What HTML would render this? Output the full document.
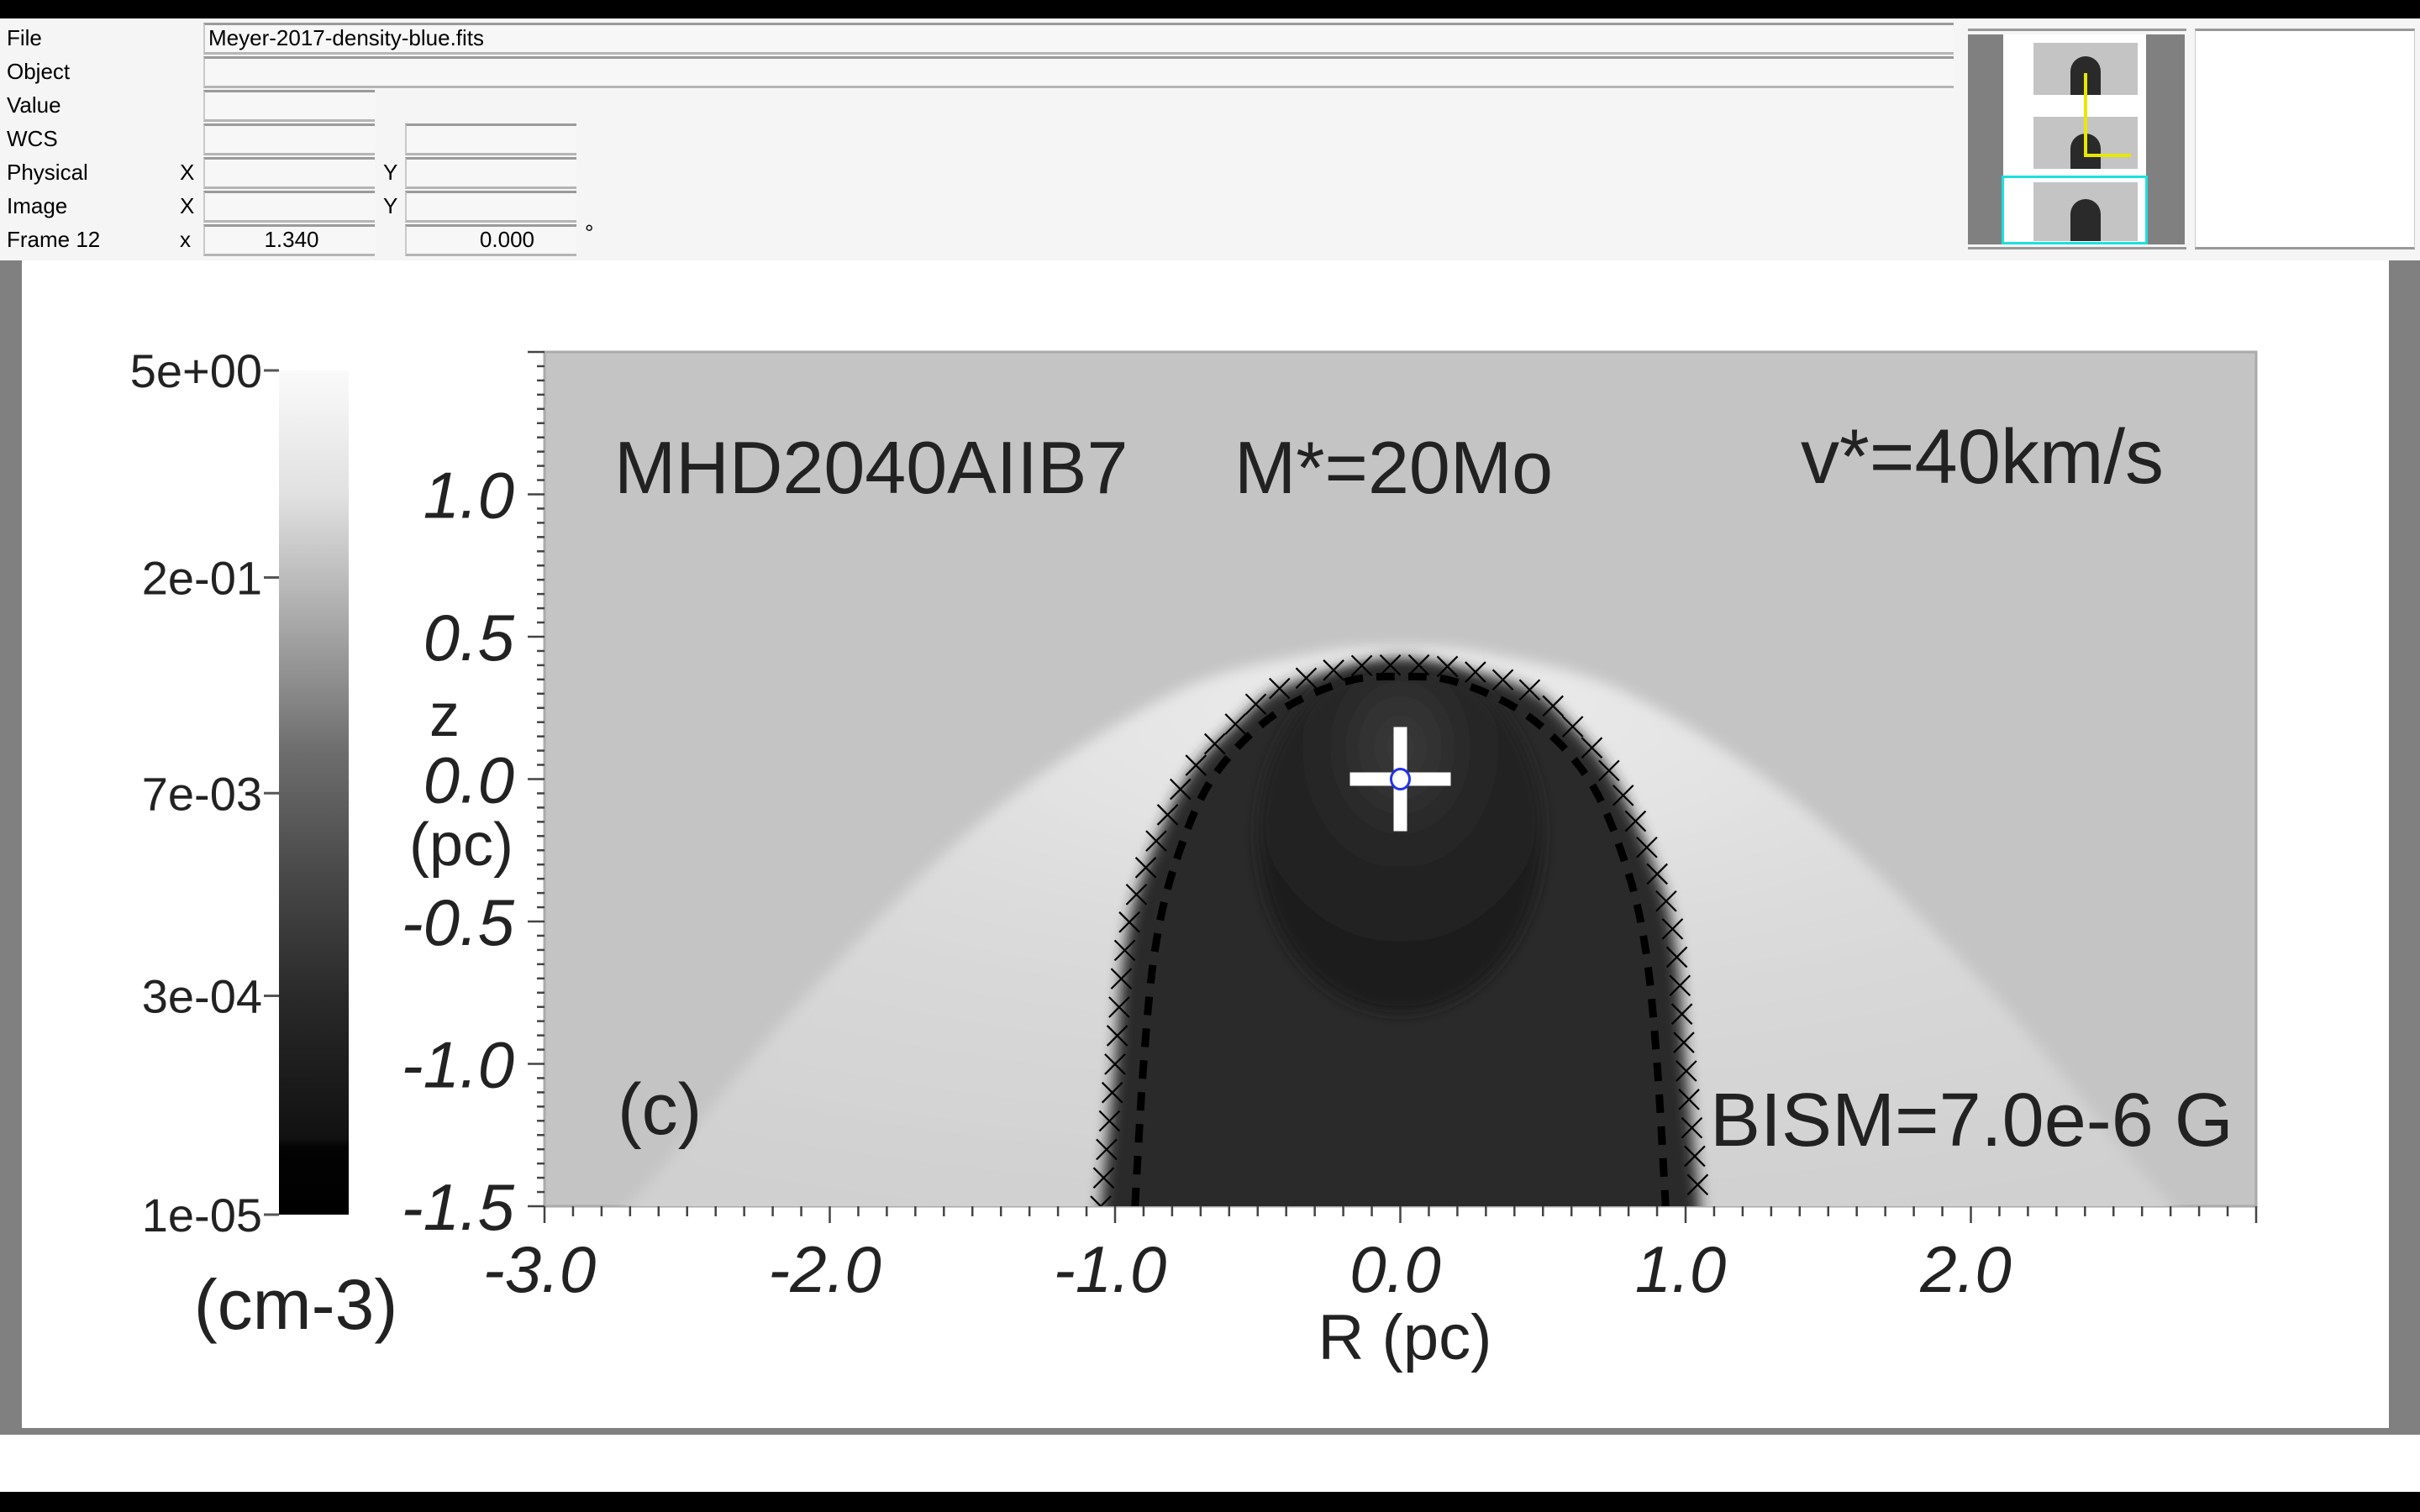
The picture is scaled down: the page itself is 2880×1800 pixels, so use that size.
<!DOCTYPE html>
<html><head><meta charset="utf-8"><style>
*{margin:0;padding:0;box-sizing:border-box}
body{width:2880px;height:1800px;overflow:hidden;background:#000;font-family:"Liberation Sans",sans-serif;position:relative}
.abs{position:absolute}
#panel{left:0;top:22px;width:2880px;height:288px;background:#f5f5f5}
.lbl{position:absolute;left:8px;font-size:26px;color:#000}
.box{position:absolute;background:#f7f7f7;border-top:3px solid #9a9a9a;border-left:2px solid #c8c8c8;border-bottom:3px solid #b5b5b5;font-size:26px;line-height:30px;padding-left:4px}
</style></head><body>
<div class="abs" style="left:0;top:0;width:2880px;height:22px;background:#000"></div>
<div id="panel" class="abs">
 <div class="lbl" style="top:8px">File</div>
 <div class="lbl" style="top:48px">Object</div>
 <div class="lbl" style="top:88px">Value</div>
 <div class="lbl" style="top:128px">WCS</div>
 <div class="lbl" style="top:168px">Physical</div>
 <div class="lbl" style="top:208px">Image</div>
 <div class="lbl" style="top:248px">Frame 12</div>
 <div class="lbl" style="top:168px;left:214px">X</div>
 <div class="lbl" style="top:208px;left:214px">X</div>
 <div class="lbl" style="top:248px;left:214px">x</div>
 <div class="lbl" style="top:168px;left:456px">Y</div>
 <div class="lbl" style="top:208px;left:456px">Y</div>
 <div class="lbl" style="top:240px;left:696px">°</div>
 <div class="box" style="left:242px;top:5px;width:2083px;height:38px">Meyer-2017-density-blue.fits</div>
 <div class="box" style="left:242px;top:45px;width:2083px;height:38px"></div>
 <div class="box" style="left:242px;top:85px;width:204px;height:38px"></div>
 <div class="box" style="left:242px;top:125px;width:204px;height:38px"></div>
 <div class="box" style="left:482px;top:125px;width:204px;height:38px"></div>
 <div class="box" style="left:242px;top:165px;width:204px;height:38px"></div>
 <div class="box" style="left:482px;top:165px;width:204px;height:38px"></div>
 <div class="box" style="left:242px;top:205px;width:204px;height:38px"></div>
 <div class="box" style="left:482px;top:205px;width:204px;height:38px"></div>
 <div class="box" style="left:242px;top:245px;width:204px;height:38px;text-align:center">1.340</div>
 <div class="box" style="left:482px;top:245px;width:204px;height:38px;text-align:right;padding-right:50px">0.000</div>
 <div class="abs" style="left:2342px;top:12px;width:260px;height:263px;background:#f5f5f5;border-top:3px solid #999;border-bottom:3px solid #999;overflow:hidden">
  <div class="abs" style="left:0;top:4px;width:258px;height:250px;background:#808080"></div>
  <div class="abs" style="left:42px;top:4px;width:170px;height:250px;background:#fff"></div>
  <div class="abs" style="left:78px;top:14px;width:124px;height:62px;background:#c4c4c4"></div>
  <div class="abs" style="left:122px;top:30px;width:36px;height:46px;background:#2a2a2a;border-radius:18px 18px 0 0"></div>
  <div class="abs" style="left:78px;top:102px;width:124px;height:62px;background:#c4c4c4"></div>
  <div class="abs" style="left:122px;top:122px;width:36px;height:42px;background:#2a2a2a;border-radius:18px 18px 0 0"></div>
  <div class="abs" style="left:138px;top:50px;width:4px;height:100px;background:#e8e800"></div>
  <div class="abs" style="left:138px;top:146px;width:56px;height:4px;background:#e8e800"></div>
  <div class="abs" style="left:40px;top:172px;width:174px;height:82px;border:3px solid #1ee0e0"></div>
  <div class="abs" style="left:78px;top:180px;width:124px;height:70px;background:#c4c4c4"></div>
  <div class="abs" style="left:122px;top:200px;width:36px;height:50px;background:#2a2a2a;border-radius:18px 18px 0 0"></div>
 </div>
 <div class="abs" style="left:2612px;top:12px;width:262px;height:263px;background:#fff;border-top:3px solid #999;border-bottom:3px solid #999;border-left:1px solid #ccc;border-right:1px solid #ccc"></div>
</div>
<div class="abs" style="left:0;top:310px;width:2880px;height:1466px;background:#fff">
 <div class="abs" style="left:0;top:0;width:26px;height:1390px;background:#808080"></div>
 <div class="abs" style="left:2843px;top:0;width:37px;height:1390px;background:#808080"></div>
 <div class="abs" style="left:0;top:1390px;width:2880px;height:8px;background:#808080"></div>
</div>
<svg id="chart" class="abs" style="left:0;top:0" width="2880" height="1800">
<defs>
 <linearGradient id="cbg" x1="0" y1="0" x2="0" y2="1">
  <stop offset="0" stop-color="#fafafa"/><stop offset="0.15" stop-color="#e0e0e0"/><stop offset="0.3" stop-color="#a8a8a8"/>
  <stop offset="0.45" stop-color="#6e6e6e"/><stop offset="0.6" stop-color="#484848"/><stop offset="0.75" stop-color="#282828"/>
  <stop offset="0.91" stop-color="#111"/><stop offset="0.92" stop-color="#030303"/><stop offset="1" stop-color="#000"/>
 </linearGradient>
 <radialGradient id="shg" cx="0.5" cy="0.1" r="0.9">
  <stop offset="0" stop-color="#ececec"/><stop offset="0.5" stop-color="#dadada"/><stop offset="1" stop-color="#d0d0d0"/>
 </radialGradient>
 <radialGradient id="bub" cx="0.5" cy="0.25" r="0.7">
  <stop offset="0" stop-color="#3a3a3a"/><stop offset="0.4" stop-color="#262626"/><stop offset="1" stop-color="#1c1c1c"/>
 </radialGradient>
 <filter id="blur"><feGaussianBlur stdDeviation="8"/></filter>
 <clipPath id="plotclip"><rect x="648" y="419" width="2037" height="1017"/></clipPath>
</defs>
<g id="cbar"></g>
<g id="plot"></g>
<g id="axes"></g>
</svg>
<script>
// data
const rTicks=[-3.0,-2.0,-1.0,0.0,1.0,2.0];
const rTickLabels=["-3.0","-2.0","-1.0","0.0","1.0","2.0"];
const zTicks=[1.0,0.5,0.0,-0.5,-1.0,-1.5];
const zTickLabels=["1.0","0.5","0.0","-0.5","-1.0","-1.5"];
const cbLabels=["5e+00","2e-01","7e-03","3e-04","1e-05"];
const cbLogValues=[0.699,-0.699,-2.155,-3.523,-5.0];
const shockR=[-2.9,-2.69,-2.1,-1.45,-0.8,-0.31,0.0,0.31,0.8,1.45,2.1,2.69,2.9];
const shockZ=[-1.6,-1.48,-0.78,-0.13,0.30,0.44,0.465,0.44,0.30,-0.13,-0.78,-1.48,-1.6];
const bubbleR=[-1.05,-1.0,-0.97,-0.91,-0.75,-0.55,-0.43,-0.2,0.0,0.2,0.45,0.57,0.75,0.91,0.97,1.0,1.05];
const bubbleZ=[-1.5,-1.0,-0.63,-0.36,0.0,0.22,0.315,0.39,0.40,0.39,0.315,0.22,0.0,-0.36,-0.63,-1.0,-1.5];
const dashR=[-0.93,-0.9,-0.86,-0.79,-0.66,-0.45,-0.2,0.0,0.2,0.45,0.66,0.79,0.86,0.9,0.93];
const dashZ=[-1.5,-1.0,-0.6,-0.3,0.0,0.22,0.34,0.36,0.34,0.22,0.0,-0.3,-0.6,-1.0,-1.5];
const starR=[0.0];
const starZ=[0.0];

const NS="http://www.w3.org/2000/svg";
const X0=648,X1=2685,Y0=419,Y1=1436;
const sx=r=>X0+(r+3)/6*(X1-X0);
const sy=z=>Y0+(1.5-z)/3*(Y1-Y0);
const CB0=441,CB1=1446;
const cy=v=>CB0+(0.699-v)/(0.699+5)*(CB1-CB0);
function mk(tag,attrs,parent){const e=document.createElementNS(NS,tag);for(const k in attrs)e.setAttribute(k,attrs[k]);parent.appendChild(e);return e;}
function txt(s,x,y,size,anchor,parent,italic){const t=mk('text',{x:x,y:y,'font-size':size,'text-anchor':anchor,fill:'#222','font-family':'Liberation Sans, sans-serif'},parent);if(italic)t.setAttribute('font-style','italic');t.textContent=s;return t;}
const cbar=document.getElementById('cbar'),plot=document.getElementById('plot'),axes=document.getElementById('axes');

// colorbar
let e=mk('rect',{x:332,y:CB0,width:83,height:CB1-CB0,fill:'url(#cbg)'},cbar);


cbLabels.forEach((l,i)=>{const y=cy(cbLogValues[i]);mk('line',{x1:314,x2:332,y1:y,y2:y,stroke:'#555','stroke-width':3},cbar);
 const t=txt(l,312,y+20,56,'end',cbar);
 
 });
e=txt('(cm-3)',352,1582,84,'middle',cbar);



// plot background
e=mk('rect',{x:X0,y:Y0,width:X1-X0,height:Y1-Y0,fill:'#c4c4c4',stroke:'#aaa','stroke-width':3},plot);


const g=mk('g',{'clip-path':'url(#plotclip)'},plot);
function smoothFrom(R,Z){const p=R.map((r,i)=>[sx(r),sy(Z[i])]);let d='M'+p[0][0]+' '+p[0][1];
 for(let i=0;i<p.length-1;i++){const p0=p[Math.max(0,i-1)],p1=p[i],p2=p[i+1],p3=p[Math.min(p.length-1,i+2)];
 d+=' C'+(p1[0]+(p2[0]-p0[0])/6)+' '+(p1[1]+(p2[1]-p0[1])/6)+' '+(p2[0]-(p3[0]-p1[0])/6)+' '+(p2[1]-(p3[1]-p1[1])/6)+' '+p2[0]+' '+p2[1];}return d;}
e=mk('path',{d:smoothFrom(shockR,shockZ)+' Z',fill:'url(#shg)',filter:'url(#blur)'},g);


e=mk('path',{d:smoothFrom(bubbleR,bubbleZ)+' L'+sx(1.05)+' '+(Y1+40)+' L'+sx(-1.05)+' '+(Y1+40)+' Z',fill:'#2c2c2c',filter:'url(#blur)'},g);


e=mk('ellipse',{cx:sx(starR[0]),cy:sy(starZ[0]-0.2),rx:0.5*339.5,ry:0.62*339.5,fill:'url(#bub)',filter:'url(#blur)'},g);


e=mk('path',{d:smoothFrom(dashR,dashZ),fill:'none',stroke:'#000','stroke-width':9,'stroke-dasharray':'22 16'},g);


const bp=mk('path',{d:smoothFrom(bubbleR,bubbleZ),fill:'none',stroke:'none'},g);
const L=bp.getTotalLength();
const cx=mk('g',{stroke:'#000','stroke-width':2.2},g);


for(let s=0;s<=L;s+=34){const p=bp.getPointAtLength(s);const q=12;
 mk('path',{d:`M${p.x-q} ${p.y-q}L${p.x+q} ${p.y+q}M${p.x-q} ${p.y+q}L${p.x+q} ${p.y-q}`},cx);}
const scx=sx(starR[0]),scy=sy(starZ[0]);
e=mk('g',{},plot);


mk('rect',{x:scx-60,y:scy-8,width:120,height:16,fill:'#fff'},e);
mk('rect',{x:scx-8,y:scy-62,width:16,height:124,fill:'#fff'},e);
mk('ellipse',{cx:scx,cy:scy,rx:11,ry:12,fill:'#fff',stroke:'#2233ee','stroke-width':3},e);

for(let r=-3;r<=3.001;r+=0.1){const x=sx(r);const maj=Math.abs(r-Math.round(r))<0.01;
 mk('line',{x1:x,x2:x,y1:Y1,y2:Y1+(maj?20:12),stroke:'#444','stroke-width':2.5},axes);}
for(let z=-1.5;z<=1.501;z+=0.05){const y=sy(z);const maj=Math.abs(z*2-Math.round(z*2))<0.01;
 mk('line',{x1:X0,x2:X0-(maj?20:9),y1:y,y2:y,stroke:'#444','stroke-width':2.5},axes);}
rTicks.forEach((r,i)=>{const t=txt(rTickLabels[i],sx(r)-6,1538,78,'middle',axes,true);
 
 });
zTicks.forEach((z,i)=>{const t=txt(zTickLabels[i],612,sy(z)+28,78,'end',axes,true);
 
 });
e=txt('z',529,876,72,'middle',axes);


e=txt('(pc)',549,1030,72,'middle',axes);


e=txt('R (pc)',1672,1618,76,'middle',axes);


e=txt('MHD2040AIIB7',731,587,88,'start',axes);


e=txt('M*=20Mo',1469,587,88,'start',axes);


e=txt('v*=40km/s',2143,575,92,'start',axes);


e=txt('(c)',735,1350,86,'start',axes);


e=txt('BISM=7.0e-6 G',2035,1364,90,'start',axes);


</script>
</body></html>
